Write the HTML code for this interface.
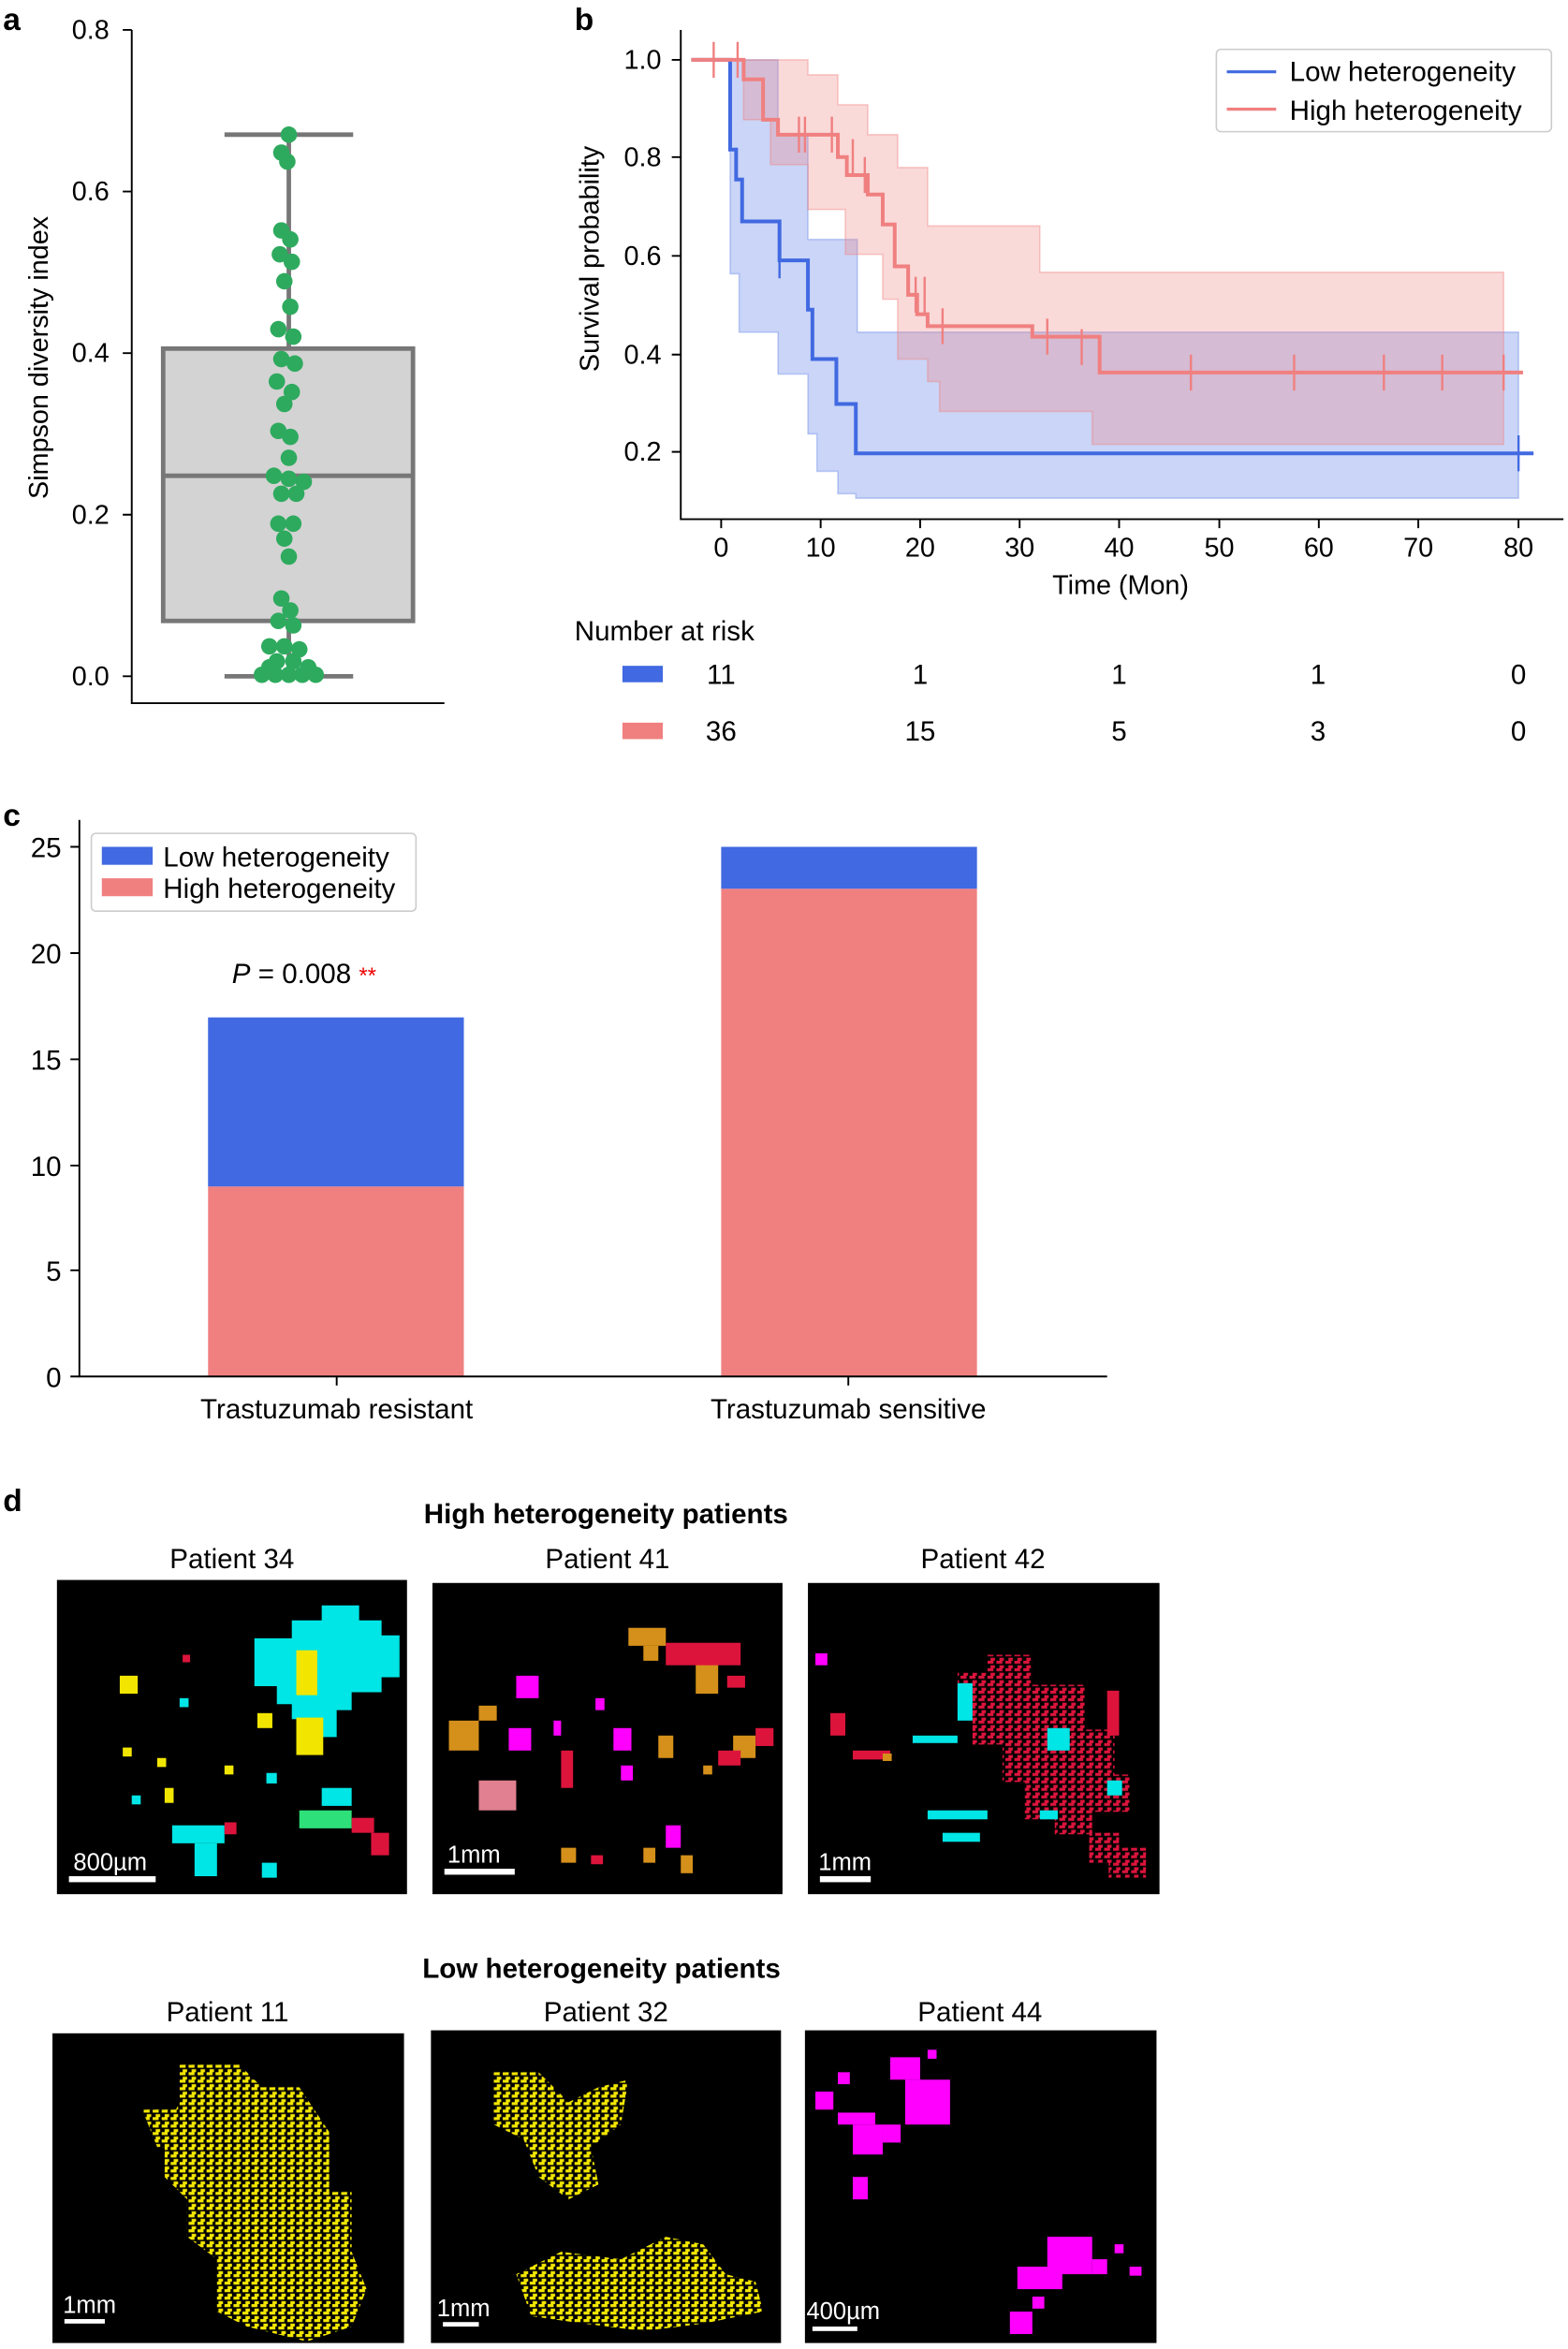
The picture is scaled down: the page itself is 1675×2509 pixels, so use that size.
<!DOCTYPE html>
<html><head><meta charset="utf-8"><style>
html,body{margin:0;padding:0;background:#fff}
svg{display:block}
text{font-family:"Liberation Sans",sans-serif;fill:#000}
</style></head><body>
<svg width="1675" height="2509" viewBox="0 0 1048 1570" xmlns="http://www.w3.org/2000/svg">
<defs>
<pattern id="yp" width="6" height="5" patternUnits="userSpaceOnUse">
<rect width="6" height="5" fill="#000"/><rect x="0" y="0" width="4" height="2" fill="#f2e600"/><rect x="2" y="3" width="3" height="2" fill="#f2e600"/>
</pattern>
<pattern id="rp" width="6" height="5" patternUnits="userSpaceOnUse">
<rect width="6" height="5" fill="#000"/><rect x="0" y="0" width="4" height="2" fill="#dc143c"/><rect x="2" y="3" width="3" height="2" fill="#dc143c"/>
</pattern>
</defs>
<!-- Panel a -->
<text x="2" y="20" font-size="21" font-weight="bold">a</text>
<g stroke="#000" stroke-width="1.2" fill="none">
<path d="M88 20 V470 H297"/>
<path d="M82 20H88M82 128H88M82 236H88M82 344H88M82 452H88"/>
</g>
<g font-size="18" text-anchor="end">
<text x="73" y="26">0.8</text><text x="73" y="134">0.6</text><text x="73" y="242">0.4</text><text x="73" y="350">0.2</text><text x="73" y="458">0.0</text>
</g>
<text transform="translate(32,239) rotate(-90)" font-size="18" text-anchor="middle">Simpson diversity index</text>
<rect x="109" y="233" width="167" height="182" fill="#d3d3d3" stroke="#777" stroke-width="3"/>
<g stroke="#777" stroke-width="3">
<line x1="109" y1="318" x2="276" y2="318"/><line x1="193" y1="90" x2="193" y2="233"/><line x1="193" y1="415" x2="193" y2="452"/>
<line x1="150" y1="90" x2="236" y2="90"/><line x1="150" y1="452" x2="236" y2="452"/>
</g>
<g fill="#2eaa5e">
<circle cx="193" cy="90" r="5.5"/><circle cx="188" cy="102" r="5.5"/><circle cx="192" cy="108" r="5.5"/>
<circle cx="188" cy="154" r="5.5"/><circle cx="194" cy="160" r="5.5"/><circle cx="187" cy="170" r="5.5"/><circle cx="195" cy="175" r="5.5"/>
<circle cx="190" cy="188" r="5.5"/><circle cx="194" cy="205" r="5.5"/><circle cx="186" cy="220" r="5.5"/><circle cx="196" cy="225" r="5.5"/>
<circle cx="188" cy="240" r="5.5"/><circle cx="197" cy="243" r="5.5"/><circle cx="185" cy="255" r="5.5"/><circle cx="195" cy="262" r="5.5"/>
<circle cx="190" cy="270" r="5.5"/><circle cx="186" cy="288" r="5.5"/><circle cx="194" cy="292" r="5.5"/><circle cx="193" cy="306" r="5.5"/>
<circle cx="183" cy="318" r="5.5"/><circle cx="193" cy="320" r="5.5"/><circle cx="203" cy="322" r="5.5"/><circle cx="188" cy="330" r="5.5"/><circle cx="198" cy="330" r="5.5"/>
<circle cx="186" cy="350" r="5.5"/><circle cx="196" cy="350" r="5.5"/><circle cx="190" cy="360" r="5.5"/><circle cx="193" cy="372" r="5.5"/>
<circle cx="188" cy="400" r="5.5"/><circle cx="194" cy="408" r="5.5"/><circle cx="186" cy="415" r="5.5"/><circle cx="196" cy="418" r="5.5"/>
<circle cx="180" cy="432" r="5.5"/><circle cx="190" cy="432" r="5.5"/><circle cx="200" cy="434" r="5.5"/><circle cx="185" cy="442" r="5.5"/><circle cx="196" cy="442" r="5.5"/>
<circle cx="175" cy="451" r="5.5"/><circle cx="184" cy="451" r="5.5"/><circle cx="193" cy="451" r="5.5"/><circle cx="202" cy="451" r="5.5"/><circle cx="211" cy="451" r="5.5"/><circle cx="180" cy="446" r="5.5"/><circle cx="206" cy="446" r="5.5"/>
</g>
<!-- Panel b -->
<text x="384" y="20" font-size="21" font-weight="bold">b</text>
<path d="M488 40 H520 V90 H540 V160 H573 V222 H1015 V333 H572 V330 H560 V315 H546 V290 H540 V250 H520 V222 H494 V183 H488 Z" fill="#4169e1" fill-opacity="0.28" stroke="#4169e1" stroke-opacity="0.3"/>
<path d="M497 40 H540 V50 H560 V70 H580 V90 H600 V112 H620 V151 H695 V182 H1005 V297 H730 V275 H628 V255 H620 V240 H600 V200 H590 V170 H565 V140 H540 V110 H515 V80 H497 Z" fill="#f08080" fill-opacity="0.3" stroke="#f08080" stroke-opacity="0.4"/>
<path d="M462 40 H488 V100 H492 V120 H496 V148 H521 V174 H540 V207 H543 V240 H559 V270 H572 V303 H1025" fill="none" stroke="#4169e1" stroke-width="2.5"/>
<path d="M462 40 H497 V53 H510 V80 H520 V90 H560 V105 H566 V117 H580 V130 H590 V150 H598 V178 H607 V197 H613 V210 H620 V218 H690 V225 H735 V232 H735 V249 H1018" fill="none" stroke="#f08080" stroke-width="2.5"/>
<g stroke="#f08080" stroke-width="1.5">
<path d="M477 28V52M493 28V52M534 78V102M538 78V102M556 78V102M570 93V117M578 105V129M612 185V209M618 185V209M630 206V230M700 213V237M723 220V244M796 237V261M865 237V261M925 237V261M964 237V261M1005 237V261"/>
</g>
<g stroke="#4169e1" stroke-width="1.5"><path d="M521 162V186M1015 291V315M1005 303H1025"/></g>
<g stroke="#000" stroke-width="1.2" fill="none">
<path d="M455 20 V347 H1045"/>
<path d="M449 40H455M449 105H455M449 171H455M449 237H455M449 302H455"/>
<path d="M482 347V353M548.5 347V353M615 347V353M681.5 347V353M748 347V353M815 347V353M881.5 347V353M948 347V353M1015 347V353"/>
</g>
<g font-size="18" text-anchor="end">
<text x="442" y="46">1.0</text><text x="442" y="111">0.8</text><text x="442" y="177">0.6</text><text x="442" y="243">0.4</text><text x="442" y="308">0.2</text>
</g>
<g font-size="18" text-anchor="middle">
<text x="482" y="372">0</text><text x="548.5" y="372">10</text><text x="615" y="372">20</text><text x="681.5" y="372">30</text><text x="748" y="372">40</text><text x="815" y="372">50</text><text x="881.5" y="372">60</text><text x="948" y="372">70</text><text x="1015" y="372">80</text>
<text x="749" y="397">Time (Mon)</text>
</g>
<text transform="translate(400,173) rotate(-90)" font-size="18" text-anchor="middle">Survival probability</text>
<rect x="813" y="33" width="224" height="55" rx="3" fill="#fff" stroke="#ccc"/>
<line x1="820" y1="48" x2="853" y2="48" stroke="#4169e1" stroke-width="2"/>
<line x1="820" y1="73" x2="853" y2="73" stroke="#f08080" stroke-width="2"/>
<text x="862" y="54" font-size="18.5">Low heterogeneity</text>
<text x="862" y="80" font-size="18.5">High heterogeneity</text>
<text x="384" y="428" font-size="18.5">Number at risk</text>
<rect x="416" y="445" width="27" height="11" fill="#4169e1"/>
<rect x="416" y="483" width="27" height="11" fill="#f08080"/>
<g font-size="18.5" text-anchor="middle">
<text x="482" y="457">11</text><text x="615" y="457">1</text><text x="748" y="457">1</text><text x="881" y="457">1</text><text x="1015" y="457">0</text>
<text x="482" y="495">36</text><text x="615" y="495">15</text><text x="748" y="495">5</text><text x="881" y="495">3</text><text x="1015" y="495">0</text>
</g>
<!-- Panel c -->
<text x="2" y="552" font-size="21" font-weight="bold">c</text>
<rect x="139" y="793" width="171" height="127" fill="#f08080"/>
<rect x="139" y="680" width="171" height="113" fill="#4169e1"/>
<rect x="482" y="594" width="171" height="326" fill="#f08080"/>
<rect x="482" y="566" width="171" height="28" fill="#4169e1"/>
<g stroke="#000" stroke-width="1.2" fill="none">
<path d="M53 548 V920 H740"/>
<path d="M47 920H53M47 849H53M47 779H53M47 708H53M47 637H53M47 566H53M225 920V926M567 920V926"/>
</g>
<g font-size="18.5" text-anchor="end">
<text x="41" y="927">0</text><text x="41" y="856">5</text><text x="41" y="786">10</text><text x="41" y="715">15</text><text x="41" y="644">20</text><text x="41" y="573">25</text>
</g>
<g font-size="18.5" text-anchor="middle"><text x="225" y="948">Trastuzumab resistant</text><text x="567" y="948">Trastuzumab sensitive</text></g>
<text x="155" y="657" font-size="18.5"><tspan font-style="italic">P</tspan> = 0.008 <tspan fill="#e00" style="fill:#e00" font-size="15">**</tspan></text>
<rect x="61" y="557" width="217" height="52" rx="3" fill="#fff" stroke="#ccc"/>
<rect x="68" y="566" width="34" height="12" fill="#4169e1"/>
<rect x="68" y="587" width="34" height="12" fill="#f08080"/>
<text x="109" y="579" font-size="18.5">Low heterogeneity</text>
<text x="109" y="600" font-size="18.5">High heterogeneity</text>
<!-- Panel d -->
<text x="2" y="1010" font-size="21" font-weight="bold">d</text>
<text x="405" y="1018" font-size="18.5" font-weight="bold" text-anchor="middle">High heterogeneity patients</text>
<text x="402" y="1322" font-size="18.5" font-weight="bold" text-anchor="middle">Low heterogeneity patients</text>
<g font-size="18.5" text-anchor="middle">
<text x="155" y="1048">Patient 34</text><text x="406" y="1048">Patient 41</text><text x="657" y="1048">Patient 42</text>
<text x="152" y="1351">Patient 11</text><text x="405" y="1351">Patient 32</text><text x="655" y="1351">Patient 44</text>
</g>
<rect x="38" y="1056" width="234" height="210" fill="#000"/>
<rect x="289" y="1058" width="234" height="208" fill="#000"/>
<rect x="540" y="1058" width="235" height="208" fill="#000"/>
<rect x="35" y="1359" width="235" height="207" fill="#000"/>
<rect x="288" y="1357" width="234" height="209" fill="#000"/>
<rect x="538" y="1357" width="235" height="209" fill="#000"/>
<!-- p34 -->
<g fill="#00e5e5">
<path d="M170 1095h25v-12h20v-10h25v10h15v10h12v28h-12v10h-20v12h-10v18h-15v-12h-15v-10h-10v-12h-15z"/>
<rect x="115" y="1220" width="35" height="12"/><rect x="130" y="1232" width="15" height="22"/><rect x="175" y="1245" width="10" height="10"/>
<rect x="215" y="1195" width="20" height="12"/><rect x="120" y="1135" width="6" height="6"/><rect x="178" y="1185" width="7" height="7"/><rect x="88" y="1200" width="6" height="6"/>
</g>
<g fill="#f2e600"><rect x="198" y="1103" width="14" height="30"/><rect x="198" y="1148" width="18" height="25"/><rect x="80" y="1120" width="12" height="12"/><rect x="172" y="1145" width="10" height="10"/><rect x="110" y="1195" width="6" height="10"/><rect x="105" y="1175" width="6" height="6"/><rect x="150" y="1180" width="6" height="6"/><rect x="82" y="1168" width="6" height="6"/></g>
<g fill="#2ee07a"><rect x="200" y="1210" width="35" height="12"/></g>
<g fill="#dc143c"><rect x="235" y="1215" width="15" height="10"/><rect x="248" y="1225" width="12" height="15"/><rect x="150" y="1218" width="8" height="8"/><rect x="122" y="1106" width="5" height="5"/></g>
<rect x="46" y="1254" width="58" height="4" fill="#fff"/><text x="49" y="1250" font-size="16" style="fill:#fff">800µm</text>
<!-- p41 -->
<g fill="#d4901a"><rect x="420" y="1088" width="25" height="12"/><rect x="430" y="1100" width="10" height="10"/><rect x="458" y="1100" width="30" height="12"/><rect x="465" y="1112" width="15" height="20"/><rect x="300" y="1150" width="20" height="20"/><rect x="320" y="1140" width="12" height="10"/><rect x="440" y="1160" width="10" height="15"/><rect x="490" y="1160" width="15" height="15"/><rect x="375" y="1235" width="10" height="10"/><rect x="430" y="1235" width="8" height="10"/><rect x="455" y="1240" width="8" height="12"/><rect x="470" y="1180" width="6" height="6"/></g>
<g fill="#dc143c"><rect x="445" y="1098" width="50" height="15"/><rect x="486" y="1120" width="12" height="8"/><rect x="505" y="1155" width="12" height="12"/><rect x="480" y="1170" width="15" height="10"/><rect x="375" y="1170" width="8" height="25"/><rect x="395" y="1240" width="8" height="6"/></g>
<g fill="#ff00ff"><rect x="345" y="1120" width="15" height="15"/><rect x="340" y="1155" width="15" height="15"/><rect x="370" y="1150" width="5" height="10"/><rect x="410" y="1155" width="12" height="15"/><rect x="415" y="1180" width="8" height="10"/><rect x="445" y="1220" width="10" height="15"/><rect x="398" y="1135" width="6" height="8"/></g>
<rect x="320" y="1190" width="25" height="20" fill="#e08090"/>
<rect x="297" y="1249" width="47" height="4" fill="#fff"/><text x="299" y="1245" font-size="16" style="fill:#fff">1mm</text>
<!-- p42 -->
<path d="M640 1118h20v-12h30v20h35v30h20v30h10v25h-25v15h-25v-10h-20v-25h-15v-25h-20v-25h-10z" fill="url(#rp)"/>
<path d="M728 1225h20v10h18v20h-25v-10h-13z" fill="url(#rp)"/>
<g fill="#dc143c"><rect x="740" y="1130" width="8" height="30"/><rect x="555" y="1145" width="10" height="15"/><rect x="570" y="1170" width="25" height="6"/></g>
<g fill="#00e5e5"><rect x="640" y="1125" width="10" height="25"/><rect x="610" y="1160" width="30" height="5"/><rect x="620" y="1210" width="40" height="6"/><rect x="630" y="1225" width="25" height="6"/><rect x="700" y="1155" width="15" height="15"/><rect x="740" y="1190" width="10" height="10"/><rect x="695" y="1210" width="12" height="6"/></g>
<g fill="#ff00ff"><rect x="545" y="1105" width="8" height="8"/></g>
<g fill="#d4901a"><rect x="590" y="1172" width="6" height="5"/></g>
<rect x="548" y="1254" width="34" height="4" fill="#fff"/><text x="547" y="1250" font-size="16" style="fill:#fff">1mm</text>
<!-- p11 -->
<path d="M120 1380h40l15 15h25l20 30v40h15v40l10 25-10 25-30 10-40-10-20-10v-35l-20-15v-25l-15-15v-30l10-20z" fill="url(#yp)"/>
<path d="M95 1410h30v25h-20z" fill="url(#yp)"/>
<rect x="43" y="1550" width="27" height="3" fill="#fff"/><text x="42" y="1546" font-size="16" style="fill:#fff">1mm</text>
<!-- p32 -->
<path d="M330 1385h30l20 20 20-10 20-5-5 30-20 15 5 25-20 10-20-15-10-25-20-10z" fill="url(#yp)"/>
<path d="M345 1520l30-15 40 5 30-15 25 5 15 20 20 5 5 20-40 8-40 5-40-5-35-5z" fill="url(#yp)"/>
<rect x="296" y="1552" width="24" height="3" fill="#fff"/><text x="292" y="1548" font-size="16" style="fill:#fff">1mm</text>
<!-- p44 -->
<g fill="#ff00ff"><rect x="545" y="1398" width="12" height="12"/><rect x="595" y="1375" width="20" height="15"/><rect x="605" y="1390" width="30" height="30"/><rect x="560" y="1412" width="25" height="8"/><rect x="570" y="1420" width="20" height="20"/><rect x="590" y="1420" width="12" height="12"/><rect x="570" y="1455" width="10" height="15"/><rect x="560" y="1385" width="8" height="8"/><rect x="620" y="1370" width="6" height="6"/>
<rect x="700" y="1495" width="30" height="25"/><rect x="680" y="1515" width="30" height="15"/><rect x="675" y="1545" width="15" height="15"/><rect x="730" y="1510" width="10" height="10"/><rect x="755" y="1515" width="8" height="6"/><rect x="690" y="1535" width="8" height="8"/><rect x="745" y="1500" width="6" height="6"/></g>
<rect x="543" y="1555" width="30" height="3" fill="#fff"/><text x="539" y="1550" font-size="16" style="fill:#fff">400µm</text>
</svg>
</body></html>
